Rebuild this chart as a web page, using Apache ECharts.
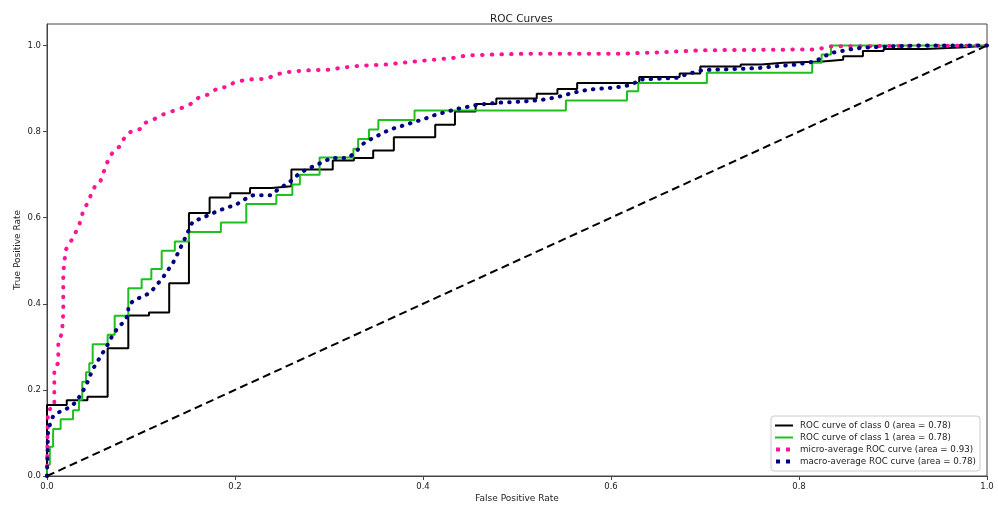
<!DOCTYPE html>
<html>
<head>
<meta charset="utf-8">
<script src="https://cdn.jsdelivr.net/npm/echarts@6/dist/echarts.min.js"></script>
<style>
html,body{margin:0;padding:0;background:#fff;}
#chart{width:998px;height:506px;}
</style>
</head>
<body>
<div id="chart"></div>
<script>
// ---- data ----
var chartTitle = 'ROC Curves';
var xAxisTitle = 'False Positive Rate';
var yAxisTitle = 'True Positive Rate';
var xTicks = [0.0, 0.2, 0.4, 0.6, 0.8, 1.0];
var yTicks = [0.0, 0.2, 0.4, 0.6, 0.8, 1.0];
var seriesNames = [
  'ROC curve of class 0 (area = 0.78)',
  'ROC curve of class 1 (area = 0.78)',
  'micro-average ROC curve (area = 0.93)',
  'macro-average ROC curve (area = 0.78)'
];

// class 0 : step points (x of each vertical jump, y after the jump)
var fprClass0 = [0, 0, 0.021, 0.043, 0.0645, 0.0865, 0.1085, 0.130, 0.151, 0.173, 0.195, 0.216, 0.239, 0.260, 0.304, 0.3265, 0.347, 0.369, 0.413, 0.434, 0.456, 0.478, 0.521, 0.543, 0.564, 0.630, 0.673, 0.695, 0.738, 0.760, 0.783, 0.825, 0.847, 0.868, 0.890, 0.934, 0.977, 1.0];
var tprClass0 = [0, 0.165, 0.176, 0.184, 0.297, 0.373, 0.380, 0.448, 0.611, 0.647, 0.657, 0.669, 0.673, 0.712, 0.733, 0.739, 0.756, 0.787, 0.816, 0.847, 0.864, 0.877, 0.888, 0.899, 0.913, 0.927, 0.935, 0.951, 0.956, 0.960, 0.963, 0.967, 0.975, 0.987, 0.992, 0.996, 1.0, 1.0];

// class 1
var fprClass1 = [0, 0, 0.003, 0.0065, 0.0145, 0.0277, 0.034, 0.0375, 0.0415, 0.045, 0.0486, 0.0645, 0.072, 0.0865, 0.1007, 0.111, 0.122, 0.136, 0.151, 0.185, 0.212, 0.244, 0.261, 0.269, 0.290, 0.326, 0.331, 0.3425, 0.3525, 0.391, 0.552, 0.617, 0.629, 0.702, 0.814, 0.824, 0.834, 1.0];
var tprClass1 = [0, 0.026, 0.068, 0.109, 0.132, 0.153, 0.177, 0.219, 0.241, 0.262, 0.306, 0.328, 0.372, 0.436, 0.457, 0.481, 0.523, 0.545, 0.567, 0.589, 0.632, 0.653, 0.677, 0.700, 0.740, 0.760, 0.783, 0.805, 0.827, 0.849, 0.872, 0.894, 0.913, 0.937, 0.960, 0.979, 1.0, 1.0];

// micro-average
var fprMicro = [0, 0.001, 0.0078, 0.0078, 0.012, 0.012, 0.016, 0.0173, 0.0173, 0.020, 0.0234, 0.0287, 0.034, 0.038, 0.043, 0.0476, 0.051, 0.0564, 0.063, 0.067, 0.072, 0.0777, 0.081, 0.085, 0.090, 0.099, 0.1024, 0.1096, 0.1167, 0.1237, 0.1327, 0.1433, 0.152, 0.163, 0.1716, 0.182, 0.193, 0.198, 0.2124, 0.234, 0.244, 0.255, 0.273, 0.301, 0.312, 0.333, 0.361, 0.383, 0.411, 0.432, 0.4465, 0.475, 0.510, 0.610, 0.649, 0.698, 0.819, 0.833, 1.0];
var tprMicro = [0, 0.153, 0.161, 0.247, 0.263, 0.309, 0.333, 0.379, 0.472, 0.526, 0.537, 0.558, 0.581, 0.612, 0.634, 0.657, 0.673, 0.682, 0.723, 0.743, 0.757, 0.766, 0.781, 0.793, 0.801, 0.806, 0.819, 0.824, 0.832, 0.840, 0.847, 0.855, 0.863, 0.882, 0.886, 0.902, 0.904, 0.913, 0.921, 0.923, 0.933, 0.938, 0.942, 0.944, 0.948, 0.953, 0.956, 0.961, 0.967, 0.971, 0.977, 0.979, 0.981, 0.981, 0.984, 0.989, 0.991, 0.998, 1.0];

// macro-average
var fprMacro = [0, 0.001, 0.003, 0.0067, 0.0149, 0.0237, 0.0316, 0.036, 0.0415, 0.045, 0.049, 0.054, 0.059, 0.0646, 0.0688, 0.074, 0.081, 0.0865, 0.0865, 0.0926, 0.102, 0.110, 0.116, 0.123, 0.134, 0.138, 0.1426, 0.147, 0.151, 0.155, 0.1646, 0.1727, 0.182, 0.191, 0.201, 0.2096, 0.219, 0.238, 0.2454, 0.254, 0.261, 0.268, 0.276, 0.285, 0.295, 0.303, 0.3205, 0.329, 0.3365, 0.345, 0.354, 0.363, 0.372, 0.382, 0.391, 0.400, 0.409, 0.418, 0.427, 0.4365, 0.4465, 0.457, 0.478, 0.507, 0.524, 0.535, 0.546, 0.556, 0.567, 0.578, 0.602, 0.613, 0.622, 0.631, 0.670, 0.680, 0.698, 0.741, 0.7585, 0.776, 0.794, 0.817, 0.826, 0.835, 0.845, 0.854, 0.868, 0.897, 0.925, 1.0];
var tprMacro = [0, 0.099, 0.119, 0.140, 0.151, 0.159, 0.173, 0.190, 0.209, 0.229, 0.249, 0.267, 0.285, 0.305, 0.323, 0.340, 0.357, 0.374, 0.395, 0.409, 0.417, 0.426, 0.442, 0.460, 0.495, 0.512, 0.533, 0.553, 0.572, 0.591, 0.599, 0.607, 0.616, 0.623, 0.630, 0.642, 0.652, 0.652, 0.665, 0.677, 0.688, 0.702, 0.712, 0.721, 0.731, 0.739, 0.739, 0.754, 0.772, 0.783, 0.793, 0.803, 0.810, 0.816, 0.823, 0.828, 0.836, 0.842, 0.847, 0.853, 0.857, 0.862, 0.867, 0.870, 0.873, 0.877, 0.882, 0.888, 0.894, 0.898, 0.902, 0.905, 0.909, 0.921, 0.925, 0.933, 0.943, 0.946, 0.948, 0.952, 0.955, 0.963, 0.974, 0.983, 0.987, 0.991, 0.995, 0.998, 1.0, 1.0];

// chance diagonal
var diagX = [0, 1];
var diagY = [0, 1];

// ---- build ----
function zip(xs, ys) { return xs.map(function (x, i) { return [x, ys[i]]; }); }

var FONT = 'DejaVu Sans';
var LINE_ICON = 'path://M0,0M18,8M0,3h18v2h-18z';
var DOT_ICON = 'path://M0,0M18,8M1,2h4v4h-4zM11,2h4v4h-4z';
var legendIcons = [LINE_ICON, LINE_ICON, DOT_ICON, DOT_ICON];

var chart = echarts.init(document.getElementById('chart'), null, {renderer: 'canvas'});

var option = {
  animation: false,
  backgroundColor: '#ffffff',
  textStyle: {fontFamily: FONT},
  title: {
    text: chartTitle,
    left: 485, top: 9,
    textStyle: {fontFamily: FONT, fontSize: 10.5, fontWeight: 'normal', color: '#222'}
  },
  grid: {
    left: 47, right: 11, top: 24, bottom: 30,
    outerBoundsMode: 'none', containLabel: false,
    show: true, borderColor: '#444', borderWidth: 1, backgroundColor: '#fff'
  },
  legend: {
    orient: 'vertical',
    right: 18, bottom: 35,
    data: seriesNames.map(function (n, i) { return {name: n, icon: legendIcons[i]}; }),
    itemWidth: 18, itemHeight: 8, itemGap: 3,
    padding: [5, 4, 5, 4],
    borderColor: '#cccccc', borderWidth: 1, borderRadius: 3,
    backgroundColor: '#fff',
    textStyle: {fontFamily: FONT, fontSize: 8.7, color: '#222', padding: [0, 0, 0, 2]},
    selectedMode: false
  },
  xAxis: {
    type: 'value', min: 0, max: 1, interval: 0.2,
    name: xAxisTitle, nameLocation: 'middle', nameGap: 18, nameMoveOverlap: false,
    nameTextStyle: {fontFamily: FONT, fontSize: 9, color: '#222'},
    axisLine: {show: true, onZero: false, lineStyle: {color: '#444', width: 1}},
    axisTick: {show: true, length: 4, inside: false, lineStyle: {color: '#444'}, customValues: xTicks},
    axisLabel: {fontFamily: FONT, fontSize: 8.5, color: '#222', margin: 6, customValues: xTicks,
      formatter: function (v) { return v.toFixed(1); }},
    splitLine: {show: false}
  },
  yAxis: {
    type: 'value', min: 0, max: 1.05, interval: 0.2,
    name: yAxisTitle, nameLocation: 'middle', nameGap: 25, nameRotate: 90, nameMoveOverlap: false,
    nameTextStyle: {fontFamily: FONT, fontSize: 9, color: '#222'},
    axisLine: {show: true, onZero: false, lineStyle: {color: '#444', width: 1}},
    axisTick: {show: true, length: 4, inside: false, lineStyle: {color: '#444'}, customValues: yTicks},
    axisLabel: {fontFamily: FONT, fontSize: 8.5, color: '#222', margin: 6, customValues: yTicks,
      formatter: function (v) { return v.toFixed(1); }},
    splitLine: {show: false}
  },
  series: [
    {
      name: seriesNames[0], type: 'line', data: zip(fprClass0, tprClass0), step: 'end',
      symbol: 'none', showSymbol: false, z: 2,
      itemStyle: {color: '#000000'},
      lineStyle: {color: '#000000', width: 2}
    },
    {
      name: seriesNames[1], type: 'line', data: zip(fprClass1, tprClass1), step: 'end',
      symbol: 'none', showSymbol: false, z: 3,
      itemStyle: {color: '#1ec01e'},
      lineStyle: {color: '#1ec01e', width: 2}
    },
    {
      name: seriesNames[2], type: 'line', data: zip(fprMicro, tprMicro),
      symbol: 'none', showSymbol: false, z: 4,
      itemStyle: {color: '#ff1493'},
      lineStyle: {color: '#ff1493', width: 4, type: [0.5, 9.2], cap: 'round'}
    },
    {
      name: seriesNames[3], type: 'line', data: zip(fprMacro, tprMacro),
      symbol: 'none', showSymbol: false, z: 5,
      itemStyle: {color: '#000080'},
      lineStyle: {color: '#000080', width: 4, type: [0.5, 8], cap: 'round'}
    },
    {
      name: 'chance', type: 'line', data: zip(diagX, diagY),
      symbol: 'none', showSymbol: false, z: 6,
      lineStyle: {color: '#000000', width: 2, type: [8, 4.5], cap: 'butt'}
    }
  ]
};
chart.setOption(option);
</script>
</body>
</html>
